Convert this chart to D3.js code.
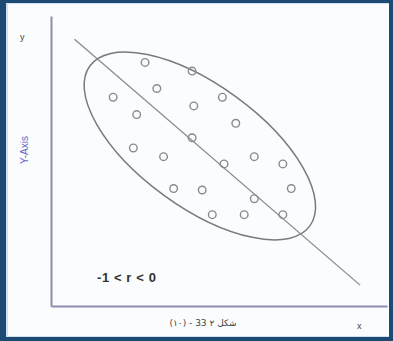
<!DOCTYPE html>
<html>
<head>
<meta charset="utf-8">
<script src="https://cdn.jsdelivr.net/npm/d3@7/dist/d3.min.js"></script>
<style>
  html, body { margin: 0; padding: 0; background: #1d4a72; }
  svg { display: block; font-family: "Liberation Sans", Arial, sans-serif; }
</style>
</head>
<body>
<svg id="chart" width="393" height="341"></svg>
<script>
// scatter points (x, y) in arbitrary 0-100 units
const pointsX = [28, 42, 31.5, 18.5, 51, 42.5, 25.5, 55, 42, 24.5, 33.5, 60.5, 51.5, 69, 36.5, 45, 71.5, 60.5, 48, 57.5, 69];
const pointsY = [84, 81, 75, 72, 72, 69, 66, 63, 58, 54.5, 51.5, 51.5, 49, 49, 40.5, 40, 40.5, 37, 31.5, 31.5, 31.5];
// regression line end points
const lineX = [7, 92];
const lineY = [92, 7.2];
// ellipse centre
const ellipseCenter = [44.3, 55.2];
const labels = { y: 'y', x: 'x', yTitle: 'Y-Axis', r: '-1 < r < 0', caption: 'شکل ۲ 33 - (۱۰)' };

const svg = d3.select('#chart');
const width = 393, height = 341;

// border + inner panel
svg.append('rect').attr('width', width).attr('height', height).attr('fill', '#1d4a72');
svg.append('rect').attr('x', 6).attr('y', 3).attr('width', width - 10).attr('height', height - 7)
  .attr('fill', '#cfe0f0');
svg.append('rect').attr('x', 8).attr('y', 4).attr('width', width - 12).attr('height', height - 9)
  .attr('fill', '#fbfcfd');

const margin = { left: 51, right: 6, top: 16, bottom: 35 };
const x = d3.scaleLinear().domain([0, 100]).range([margin.left, width - margin.right]);
const y = d3.scaleLinear().domain([0, 100]).range([height - margin.bottom, margin.top]);

// axes (lines only, no ticks)
const axisColor = '#8c8cb0';
svg.append('g').attr('transform', `translate(0,${y(0)})`)
  .call(d3.axisBottom(x).ticks(0).tickSizeOuter(0))
  .call(g => g.select('.domain').attr('stroke', axisColor).attr('stroke-width', 2));
svg.append('g').attr('transform', `translate(${x(0)},0)`)
  .call(d3.axisLeft(y).ticks(0).tickSizeOuter(0))
  .call(g => g.select('.domain').attr('stroke', axisColor).attr('stroke-width', 2));

// ellipse round the cloud
svg.append('ellipse')
  .attr('transform', `translate(${x(ellipseCenter[0])},${y(ellipseCenter[1])}) rotate(36)`)
  .attr('rx', 136).attr('ry', 61)
  .attr('fill', 'none').attr('stroke', '#7a7a7a').attr('stroke-width', 1.5);

// line of fit
svg.append('line')
  .attr('x1', x(lineX[0])).attr('y1', y(lineY[0]))
  .attr('x2', x(lineX[1])).attr('y2', y(lineY[1]))
  .attr('stroke', '#8a8a8a').attr('stroke-width', 1.3);

// points
svg.append('g').selectAll('circle')
  .data(d3.zip(pointsX, pointsY))
  .join('circle')
  .attr('cx', d => x(d[0])).attr('cy', d => y(d[1]))
  .attr('r', 3.8)
  .attr('fill', 'none').attr('stroke', '#8a8a8a').attr('stroke-width', 1.4);

// texts
svg.append('text').attr('x', 20).attr('y', 40).attr('font-size', 9).attr('fill', '#444')
  .text(labels.y);
svg.append('text').attr('transform', 'translate(28,150) rotate(-90)')
  .attr('text-anchor', 'middle').attr('font-size', 10).attr('fill', '#6464c8')
  .text(labels.yTitle);
svg.append('text').attr('x', 357).attr('y', 329).attr('font-size', 9).attr('fill', '#444')
  .text(labels.x);
svg.append('text').attr('x', 97).attr('y', 282).attr('font-size', 13).attr('font-weight', 'bold')
  .attr('letter-spacing', 0.6).attr('fill', '#333').text(labels.r);
svg.append('text').attr('x', 203).attr('y', 326).attr('text-anchor', 'middle')
  .attr('font-size', 9).attr('fill', '#444').attr('direction', 'rtl')
  .attr('font-family', '"DejaVu Sans", sans-serif')
  .text(labels.caption);
</script>
</body>
</html>
